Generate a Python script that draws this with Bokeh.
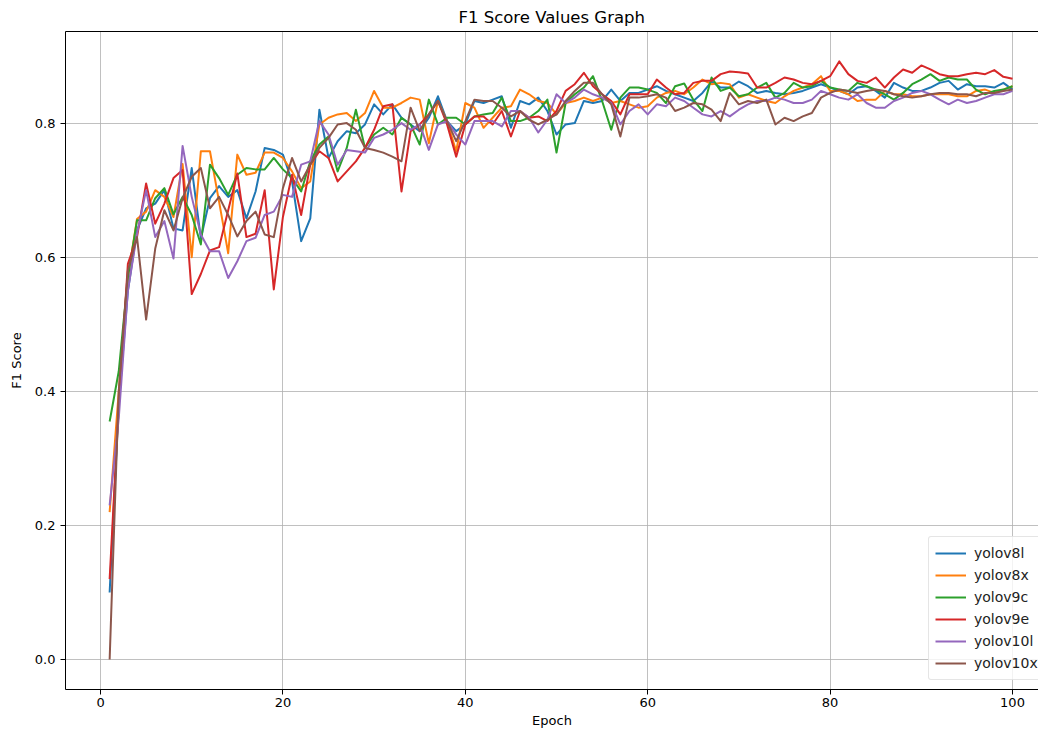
from bokeh.plotting import figure
from bokeh.models import Range1d, LinearAxis, Legend, LegendItem, FixedTicker, PrintfTickFormatter
from bokeh.embed import file_html
from bokeh.resources import INLINE

epochs = list(range(1, 101))

yolov8l = [0.10, 0.38, 0.55, 0.64, 0.673, 0.68, 0.70, 0.643, 0.64, 0.733,
           0.628, 0.688, 0.706, 0.69, 0.70, 0.658, 0.698, 0.763, 0.760, 0.753,
           0.713, 0.624, 0.658, 0.82, 0.748, 0.773, 0.788, 0.785, 0.798, 0.828,
           0.813, 0.828, 0.808, 0.798, 0.788, 0.808, 0.840, 0.803, 0.788, 0.798,
           0.833, 0.830, 0.835, 0.840, 0.793, 0.833, 0.828, 0.838, 0.818, 0.783,
           0.798, 0.800, 0.833, 0.830, 0.833, 0.850, 0.833, 0.845, 0.845, 0.850,
           0.855, 0.848, 0.843, 0.838, 0.833, 0.845, 0.862, 0.853, 0.853, 0.862,
           0.855, 0.845, 0.848, 0.845, 0.843, 0.845, 0.848, 0.853, 0.858, 0.853,
           0.848, 0.843, 0.853, 0.855, 0.848, 0.838, 0.860, 0.853, 0.848, 0.848,
           0.853, 0.860, 0.863, 0.850, 0.858, 0.855, 0.855, 0.853, 0.860, 0.850]

yolov8x = [0.22, 0.40, 0.57, 0.657, 0.668, 0.70, 0.69, 0.66, 0.739, 0.60,
           0.758, 0.758, 0.683, 0.606, 0.753, 0.723, 0.726, 0.756, 0.756, 0.748,
           0.728, 0.703, 0.713, 0.798, 0.808, 0.813, 0.815, 0.803, 0.815, 0.848,
           0.823, 0.823, 0.830, 0.838, 0.835, 0.770, 0.833, 0.803, 0.758, 0.830,
           0.823, 0.793, 0.808, 0.823, 0.825, 0.850, 0.843, 0.833, 0.830, 0.813,
           0.830, 0.833, 0.838, 0.833, 0.838, 0.830, 0.833, 0.828, 0.823, 0.825,
           0.838, 0.845, 0.848, 0.843, 0.853, 0.865, 0.858, 0.860, 0.858, 0.838,
           0.843, 0.838, 0.833, 0.830, 0.840, 0.848, 0.853, 0.858, 0.870, 0.848,
           0.848, 0.843, 0.833, 0.835, 0.835, 0.848, 0.843, 0.843, 0.840, 0.840,
           0.843, 0.843, 0.843, 0.840, 0.840, 0.848, 0.850, 0.845, 0.850, 0.855]

yolov9c = [0.355, 0.43, 0.57, 0.655, 0.655, 0.688, 0.703, 0.664, 0.69, 0.663,
           0.619, 0.738, 0.718, 0.693, 0.723, 0.733, 0.731, 0.731, 0.748, 0.731,
           0.718, 0.698, 0.743, 0.768, 0.780, 0.728, 0.763, 0.820, 0.763, 0.783,
           0.793, 0.783, 0.808, 0.798, 0.768, 0.835, 0.798, 0.808, 0.808, 0.798,
           0.810, 0.813, 0.815, 0.838, 0.803, 0.803, 0.808, 0.818, 0.835, 0.756,
           0.830, 0.843, 0.853, 0.870, 0.833, 0.790, 0.838, 0.853, 0.853, 0.850,
           0.845, 0.830, 0.855, 0.859, 0.835, 0.818, 0.868, 0.848, 0.853, 0.840,
           0.843, 0.853, 0.860, 0.838, 0.845, 0.860, 0.853, 0.855, 0.863, 0.853,
           0.850, 0.848, 0.860, 0.855, 0.850, 0.843, 0.835, 0.845, 0.858, 0.865,
           0.873, 0.863, 0.868, 0.865, 0.865, 0.850, 0.843, 0.848, 0.850, 0.855]

yolov9e = [0.12, 0.38, 0.59, 0.63, 0.71, 0.65, 0.68, 0.718, 0.73, 0.545,
           0.575, 0.61, 0.615, 0.67, 0.725, 0.63, 0.635, 0.70, 0.552, 0.66,
           0.723, 0.663, 0.738, 0.758, 0.748, 0.713, 0.728, 0.743, 0.763, 0.790,
           0.825, 0.828, 0.698, 0.788, 0.798, 0.813, 0.833, 0.798, 0.750, 0.798,
           0.810, 0.810, 0.798, 0.818, 0.780, 0.818, 0.808, 0.810, 0.803, 0.818,
           0.848, 0.858, 0.875, 0.855, 0.843, 0.833, 0.813, 0.843, 0.843, 0.843,
           0.865, 0.853, 0.843, 0.845, 0.860, 0.863, 0.863, 0.873, 0.877, 0.876,
           0.874, 0.853, 0.853, 0.860, 0.868, 0.865, 0.860, 0.858, 0.863, 0.870,
           0.892, 0.873, 0.863, 0.860, 0.868, 0.853, 0.868, 0.880, 0.875, 0.886,
           0.880, 0.873, 0.870, 0.870, 0.873, 0.875, 0.873, 0.879, 0.869, 0.866]

yolov10l = [0.23, 0.36, 0.55, 0.635, 0.70, 0.63, 0.654, 0.598, 0.766, 0.69,
            0.634, 0.609, 0.609, 0.569, 0.594, 0.624, 0.629, 0.663, 0.668, 0.693,
            0.69, 0.738, 0.743, 0.803, 0.783, 0.738, 0.760, 0.758, 0.756, 0.778,
            0.783, 0.790, 0.800, 0.790, 0.798, 0.760, 0.798, 0.803, 0.783, 0.768,
            0.803, 0.803, 0.803, 0.795, 0.818, 0.818, 0.808, 0.786, 0.805, 0.843,
            0.830, 0.838, 0.850, 0.843, 0.838, 0.830, 0.798, 0.818, 0.828, 0.813,
            0.828, 0.825, 0.838, 0.833, 0.823, 0.813, 0.810, 0.818, 0.810, 0.820,
            0.828, 0.833, 0.833, 0.838, 0.835, 0.830, 0.830, 0.835, 0.848, 0.843,
            0.838, 0.835, 0.843, 0.830, 0.823, 0.823, 0.833, 0.838, 0.845, 0.848,
            0.843, 0.835, 0.828, 0.835, 0.830, 0.833, 0.838, 0.843, 0.843, 0.848]

yolov10x = [0.0, 0.40, 0.58, 0.63, 0.507, 0.613, 0.67, 0.64, 0.688, 0.72,
            0.733, 0.673, 0.69, 0.663, 0.631, 0.654, 0.668, 0.634, 0.63, 0.703,
            0.748, 0.713, 0.738, 0.763, 0.778, 0.798, 0.800, 0.790, 0.763, 0.760,
            0.756, 0.750, 0.743, 0.823, 0.788, 0.813, 0.833, 0.803, 0.773, 0.803,
            0.835, 0.833, 0.833, 0.823, 0.810, 0.818, 0.805, 0.798, 0.805, 0.813,
            0.833, 0.848, 0.860, 0.860, 0.843, 0.828, 0.780, 0.838, 0.838, 0.840,
            0.843, 0.838, 0.818, 0.823, 0.830, 0.828, 0.820, 0.803, 0.845, 0.828,
            0.833, 0.830, 0.835, 0.798, 0.808, 0.803, 0.810, 0.815, 0.838, 0.845,
            0.850, 0.848, 0.845, 0.848, 0.850, 0.848, 0.843, 0.840, 0.838, 0.840,
            0.843, 0.845, 0.845, 0.843, 0.843, 0.840, 0.845, 0.845, 0.848, 0.850]

series_names = ["yolov8l", "yolov8x", "yolov9c", "yolov9e", "yolov10l", "yolov10x"]
series_values = [yolov8l, yolov8x, yolov9c, yolov9e, yolov10l, yolov10x]
colors = ["#1f77b4", "#ff7f0e", "#2ca02c", "#d62728", "#9467bd", "#8c564b"]

x_ticks = [0, 20, 40, 60, 80, 100]
y_ticks = [0.0, 0.2, 0.4, 0.6, 0.8]

FONT = "DejaVu Sans"

p = figure(width=1038, height=730, output_backend="svg", toolbar_location=None,
           x_range=Range1d(-3.84, 102.85), y_range=Range1d(-0.0446, 0.9366),
           min_border_left=65, min_border_right=0, min_border_top=31, min_border_bottom=40,
           title="F1 Score Values Graph")

p.title.text_font = FONT
p.title.text_font_size = "16.5px"
p.title.text_font_style = "normal"
p.title.text_color = "black"
p.title.align = "left"
p.title.standoff = 10
p.title.offset = 393

p.outline_line_color = None
p.background_fill_color = "white"
p.border_fill_color = "white"

p.xaxis.ticker = FixedTicker(ticks=x_ticks)
p.yaxis.ticker = FixedTicker(ticks=y_ticks)
p.xaxis.formatter = PrintfTickFormatter(format="%d")
p.yaxis.formatter = PrintfTickFormatter(format="%.1f")
p.xaxis.axis_label = "Epoch"
p.yaxis.axis_label = "F1 Score"

for ax in (p.xaxis, p.yaxis):
    ax.axis_line_color = "black"
    ax.axis_line_width = 1
    ax.major_tick_line_color = "black"
    ax.major_tick_out = 5
    ax.major_tick_in = 0
    ax.minor_tick_line_color = None
    ax.major_label_text_font = FONT
    ax.major_label_text_font_size = "13px"
    ax.major_label_text_color = "black"
    ax.axis_label_text_font = FONT
    ax.axis_label_text_font_size = "13px"
    ax.axis_label_text_font_style = "normal"
    ax.axis_label_text_color = "black"

p.xaxis.major_label_standoff = 3
p.xaxis.axis_label_standoff = 3
p.yaxis.major_label_standoff = 5
p.yaxis.axis_label_standoff = 8

top_axis = LinearAxis(ticker=FixedTicker(ticks=[]), axis_line_color="black", axis_line_width=1,
                      major_tick_line_color=None, minor_tick_line_color=None,
                      major_tick_out=0, major_tick_in=0, major_label_standoff=0,
                      major_label_text_font_size="0px")
p.add_layout(top_axis, "above")

p.xgrid.ticker = FixedTicker(ticks=x_ticks)
p.ygrid.ticker = FixedTicker(ticks=y_ticks)
p.grid.grid_line_color = "#b0b0b0"
p.grid.grid_line_width = 0.8

items = []
for name, vals, c in zip(series_names, series_values, colors):
    r = p.line(epochs, vals, line_color=c, line_width=2, line_join="round")
    items.append(LegendItem(label=name, renderers=[r]))

legend = Legend(items=items, location=(863, 9),
                label_text_font=FONT, label_text_font_size="14px", label_text_color="#222222",
                glyph_width=31, glyph_height=20, label_height=20, spacing=2,
                padding=6, margin=0, label_standoff=8,
                border_line_color="#cccccc", border_line_width=1,
                background_fill_color="white", background_fill_alpha=0.8,
                border_radius=3)
p.add_layout(legend)

open("out.html", "w").write(file_html(p, INLINE))
